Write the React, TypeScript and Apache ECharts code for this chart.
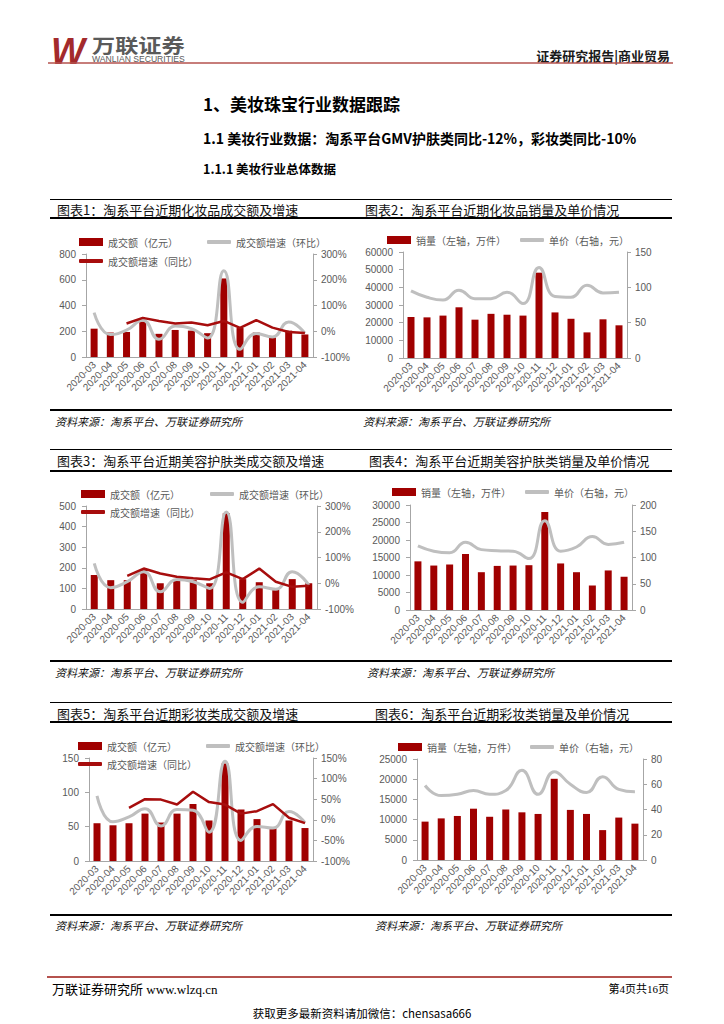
import React, { useEffect, useRef } from 'react';
import * as echarts from 'echarts';

// ---------- data ----------
const months = ['2020-03', '2020-04', '2020-05', '2020-06', '2020-07', '2020-08', '2020-09', '2020-10', '2020-11', '2020-12', '2021-01', '2021-02', '2021-03', '2021-04'];

// 图表1 化妆品成交额及增速
const gmvTotal = [220, 190, 195, 275, 180, 210, 205, 185, 610, 225, 190, 155, 205, 175];
const gmvTotalMoM = [72, -13, 4, 43, -31, 20, 10, -26, 235, -70, -9, -22, 36, -7];
const gmvTotalYoY = [null, null, 30, 52, 40, 30, 34, 23, 40, 13, 43, 14, -3, -7];

// 图表2 化妆品销量及单价
const volTotal = [23200, 23000, 24000, 28700, 21700, 25000, 24500, 24000, 48300, 25800, 22200, 14500, 21900, 18500];
const priceTotal = [95, 86, 82, 96, 84, 84, 93, 77, 128, 87, 86, 103, 92, 93];

// 图表3 美容护肤类成交额及增速
const gmvSkin = [165, 140, 140, 190, 125, 140, 140, 125, 465, 145, 130, 95, 145, 125];
const gmvSkinMoM = [77, -17, 6, 45, -33, 15, 6, -20, 277, -74, -14, -23, 45, -7];
const gmvSkinYoY = [null, null, 29, 57, 38, 25, 19, 15, 42, 16, 57, 6, -14, -10];

// 图表4 美容护肤类销量及单价
const volSkin = [13900, 12700, 13000, 16000, 10800, 12600, 12700, 12800, 28000, 13300, 10800, 7000, 11300, 9500];
const priceSkin = [122, 112, 109, 129, 115, 113, 112, 98, 170, 112, 120, 140, 125, 129];

// 图表5 彩妆类成交额及增速
const gmvMakeup = [55, 52, 55, 69, 56, 69, 83, 59, 142, 75, 61, 48, 59, 48];
const gmvMakeupMoM = [58, -5, 7, 27, -15, 25, 23, -30, 142, -50, -16, -20, 20, -7];
const gmvMakeupYoY = [null, null, 29, 50, 49, 37, 68, 43, 37, 15, 21, 38, 5, -8];

// 图表6 彩妆类销量及单价
const volMakeup = [9500, 10300, 10900, 12700, 10700, 12500, 11800, 11400, 20100, 12400, 11400, 7400, 10500, 9000];
const priceMakeup = [59, 51, 52, 55, 52, 55, 71, 52, 70, 60, 53.5, 66, 56, 54];

// names
const N_GMV = '成交额（亿元）';
const N_MOM = '成交额增速（环比）';
const N_YOY = '成交额增速（同比）';
const N_VOL = '销量（左轴，万件）';
const N_PRICE = '单价（右轴，元）';

const titles = [
  '图表1：淘系平台近期化妆品成交额及增速',
  '图表2：淘系平台近期化妆品销量及单价情况',
  '图表3：淘系平台近期美容护肤类成交额及增速',
  '图表4：淘系平台近期美容护肤类销量及单价情况',
  '图表5：淘系平台近期彩妆类成交额及增速',
  '图表6：淘系平台近期彩妆类销量及单价情况',
];
const sourceText = '资料来源：淘系平台、万联证券研究所';

// ---------- style ----------
const CJK = '"Noto Sans CJK SC", "Noto Sans", sans-serif';
const LAT = '"Liberation Sans", Arial, sans-serif';
const SERIF = '"Liberation Serif", "Noto Sans CJK SC", serif';
const BAR = '#A00000';
const RED = '#A70D0D';
const GRAY = '#BFBFBF';
const AXIS = '#A6A6A6';
const LABEL = '#595959';

type Panel = {
  grid: { left: number; top: number; width: number; height: number };
  lMax: number; lInt: number;
  rMin: number; rMax: number; rInt: number; pct: boolean;
  barName: string; bar: number[];
  gray: { name: string; data: number[] };
  red?: { name: string; data: (number | null)[] };
  leg: { bar: [number, number]; gray: [number, number]; red?: [number, number] };
};

const panels: Panel[] = [
  {
    grid: { left: 86, top: 254, width: 227, height: 103 },
    lMax: 800, lInt: 200, rMin: -100, rMax: 300, rInt: 100, pct: true,
    barName: N_GMV, bar: gmvTotal,
    gray: { name: N_MOM, data: gmvTotalMoM },
    red: { name: N_YOY, data: gmvTotalYoY },
    leg: { bar: [79, 244], gray: [207, 244], red: [79, 263] },
  },
  {
    grid: { left: 403, top: 252, width: 224, height: 106 },
    lMax: 60000, lInt: 10000, rMin: 0, rMax: 150, rInt: 50, pct: false,
    barName: N_VOL, bar: volTotal,
    gray: { name: N_PRICE, data: priceTotal },
    leg: { bar: [387, 242], gray: [520, 242] },
  },
  {
    grid: { left: 86, top: 506, width: 231, height: 103 },
    lMax: 500, lInt: 100, rMin: -100, rMax: 300, rInt: 100, pct: true,
    barName: N_GMV, bar: gmvSkin,
    gray: { name: N_MOM, data: gmvSkinMoM },
    red: { name: N_YOY, data: gmvSkinYoY },
    leg: { bar: [81, 496], gray: [210, 496], red: [81, 514] },
  },
  {
    grid: { left: 410, top: 505, width: 222, height: 105 },
    lMax: 30000, lInt: 5000, rMin: 0, rMax: 200, rInt: 50, pct: false,
    barName: N_VOL, bar: volSkin,
    gray: { name: N_PRICE, data: priceSkin },
    leg: { bar: [392, 494], gray: [525, 494] },
  },
  {
    grid: { left: 89, top: 758, width: 224, height: 103 },
    lMax: 150, lInt: 50, rMin: -100, rMax: 150, rInt: 50, pct: true,
    barName: N_GMV, bar: gmvMakeup,
    gray: { name: N_MOM, data: gmvMakeupMoM },
    red: { name: N_YOY, data: gmvMakeupYoY },
    leg: { bar: [78, 748], gray: [206, 748], red: [78, 766] },
  },
  {
    grid: { left: 417, top: 759, width: 226, height: 101 },
    lMax: 25000, lInt: 5000, rMin: 0, rMax: 80, rInt: 20, pct: false,
    barName: N_VOL, bar: volMakeup,
    gray: { name: N_PRICE, data: priceMakeup },
    leg: { bar: [398, 749], gray: [530, 749] },
  },
];

// frame layout per row
const rows = [
  { top: 199.5, under: 218, bottom: 410, title: 209, source: 421 },
  { top: 449.5, under: 471, bottom: 661, title: 460, source: 672 },
  { top: 702.5, under: 722, bottom: 915, title: 713, source: 925 },
];
const titleX = [57, 365, 57, 369, 57, 375];
const sourceX = [55, 363, 55, 367, 55, 375];

function txt(text: string, x: number, y: number, o: any = {}) {
  const align = o.align || 'left';
  return {
    type: 'text',
    x, y,
    silent: true,
    scaleX: o.scaleX || 1,
    style: {
      text,
      fontSize: o.size || 12,
      fontFamily: o.family || CJK,
      fontWeight: o.weight || 'normal',
      fontStyle: o.italic ? 'italic' : 'normal',
      fill: o.color || '#000',
      align, textAlign: align,
      verticalAlign: 'middle', textVerticalAlign: 'middle',
    },
  };
}
function hline(x1: number, x2: number, y: number, w: number, color = '#000') {
  return { type: 'line', silent: true, shape: { x1, y1: y, x2, y2: y }, style: { stroke: color, lineWidth: w } };
}

function buildOption() {
  const grid: any[] = [];
  const xAxis: any[] = [];
  const yAxis: any[] = [];
  const series: any[] = [];
  const legend: any[] = [];

  const legendBase = (name: string, pos: [number, number], isBar: boolean) => ({
    data: [{ name, icon: isBar ? 'rect' : 'roundRect' }],
    left: pos[0],
    top: pos[1] - 7,
    padding: 0,
    itemGap: 0,
    itemWidth: 24,
    itemHeight: isBar ? 8 : 4,
    selectedMode: false,
    textStyle: { fontSize: 10, color: LABEL, fontFamily: CJK, padding: [0, 0, 0, 0] },
  });

  panels.forEach((p, i) => {
    grid.push({ ...p.grid, containLabel: false });
    xAxis.push({
      type: 'category', gridIndex: i, data: months,
      axisLine: { show: true, lineStyle: { color: AXIS, width: 1 } },
      axisTick: { show: false },
      axisLabel: { rotate: 45, interval: 0, fontSize: 10, color: LABEL, fontFamily: LAT, margin: 6 },
      splitLine: { show: false },
    });
    yAxis.push({
      type: 'value', gridIndex: i, position: 'left', min: 0, max: p.lMax, interval: p.lInt,
      axisLine: { show: true, lineStyle: { color: AXIS, width: 1 } },
      axisTick: { show: true, length: 4, lineStyle: { color: AXIS } },
      axisLabel: { fontSize: 10, color: LABEL, fontFamily: LAT, margin: 10, formatter: (v: number) => `${v}` },
      splitLine: { show: false },
    });
    yAxis.push({
      type: 'value', gridIndex: i, position: 'right', min: p.rMin, max: p.rMax, interval: p.rInt,
      axisLine: { show: true, lineStyle: { color: AXIS, width: 1 } },
      axisTick: { show: true, length: 4, lineStyle: { color: AXIS } },
      axisLabel: {
        fontSize: 10, color: LABEL, fontFamily: LAT, margin: 8,
        formatter: p.pct ? (v: number) => `${v}%` : (v: number) => `${v}`,
      },
      splitLine: { show: false },
    });
    series.push({
      type: 'bar', name: p.barName, xAxisIndex: i, yAxisIndex: 2 * i,
      data: p.bar, barWidth: 7, itemStyle: { color: BAR }, z: 2,
    });
    series.push({
      type: 'line', name: p.gray.name, xAxisIndex: i, yAxisIndex: 2 * i + 1,
      data: p.gray.data, smooth: 0.5, symbol: 'none',
      lineStyle: { color: GRAY, width: 3 }, itemStyle: { color: GRAY }, z: 3,
    });
    if (p.red) {
      series.push({
        type: 'line', name: p.red.name, xAxisIndex: i, yAxisIndex: 2 * i + 1,
        data: p.red.data, smooth: false, symbol: 'none', connectNulls: false,
        lineStyle: { color: RED, width: 2.5 }, itemStyle: { color: RED }, z: 4,
      });
    }
    legend.push(legendBase(p.barName, p.leg.bar, true));
    legend.push(legendBase(p.gray.name, p.leg.gray, false));
    if (p.red && p.leg.red) legend.push(legendBase(p.red.name, p.leg.red, false));
  });

  const graphic: any[] = [];
  // header
  graphic.push(txt('W', 51, 51, { size: 36, family: LAT, weight: 'bold', italic: true, color: '#A32A2C' }));
  graphic.push(txt('万联证券', 92, 44, { size: 19, weight: 'bold', color: '#5A5A5A', scaleX: 1.22 }));
  graphic.push(txt('WANLIAN SECURITIES', 92, 58.5, { size: 8.6, family: LAT, color: '#5A5A5A' }));
  graphic.push(txt('证券研究报告|商业贸易', 670, 55, { size: 13, weight: 'bold', color: '#1a1a1a', align: 'right' }));
  graphic.push(hline(48, 673, 63, 1.5, '#B5524E'));
  // section headings
  graphic.push(txt('1、美妆珠宝行业数据跟踪', 203, 103, { size: 17, weight: 'bold', color: '#000' }));
  graphic.push(txt('1.1 美妆行业数据：淘系平台GMV护肤类同比-12%，彩妆类同比-10%', 203, 138, { size: 14, weight: 'bold', color: '#000' }));
  graphic.push(txt('1.1.1 美妆行业总体数据', 203, 168, { size: 12.5, weight: 'bold', color: '#000' }));
  // frames
  rows.forEach((r, ri) => {
    graphic.push(hline(50, 672, r.top, 1));
    graphic.push(hline(50, 672, r.under, 2));
    graphic.push(hline(50, 672, r.bottom, 2));
    for (let c = 0; c < 2; c++) {
      const k = ri * 2 + c;
      graphic.push(txt(titles[k], titleX[k], r.title, { size: 13, color: '#111' }));
      graphic.push(txt(sourceText, sourceX[k], r.source, { size: 11, italic: true, color: '#111' }));
    }
  });
  // footer
  graphic.push(hline(47, 672, 977, 2, '#B5524E'));
  graphic.push(txt('万联证券研究所 www.wlzq.cn', 52, 989, { size: 13, family: SERIF, color: '#000' }));
  graphic.push(txt('第4页共16页', 669, 989, { size: 11, family: SERIF, color: '#000', align: 'right' }));
  graphic.push(txt('获取更多最新资料请加微信：chensasa666', 362, 1013, { size: 11.5, color: '#000', align: 'center' }));

  return {
    animation: false,
    backgroundColor: '#ffffff',
    textStyle: { fontFamily: CJK },
    grid, xAxis, yAxis, series, legend, graphic,
  };
}

export default function App() {
  const ref = useRef<HTMLDivElement>(null);
  useEffect(() => {
    if (!ref.current) return;
    const chart = echarts.init(ref.current, undefined, { renderer: 'svg' });
    chart.setOption(buildOption() as any);
    return () => chart.dispose();
  }, []);
  return (
    <div
      ref={ref}
      style={{ position: 'absolute', left: 0, top: 0, width: 724, height: 1024, background: '#fff' }}
    />
  );
}
